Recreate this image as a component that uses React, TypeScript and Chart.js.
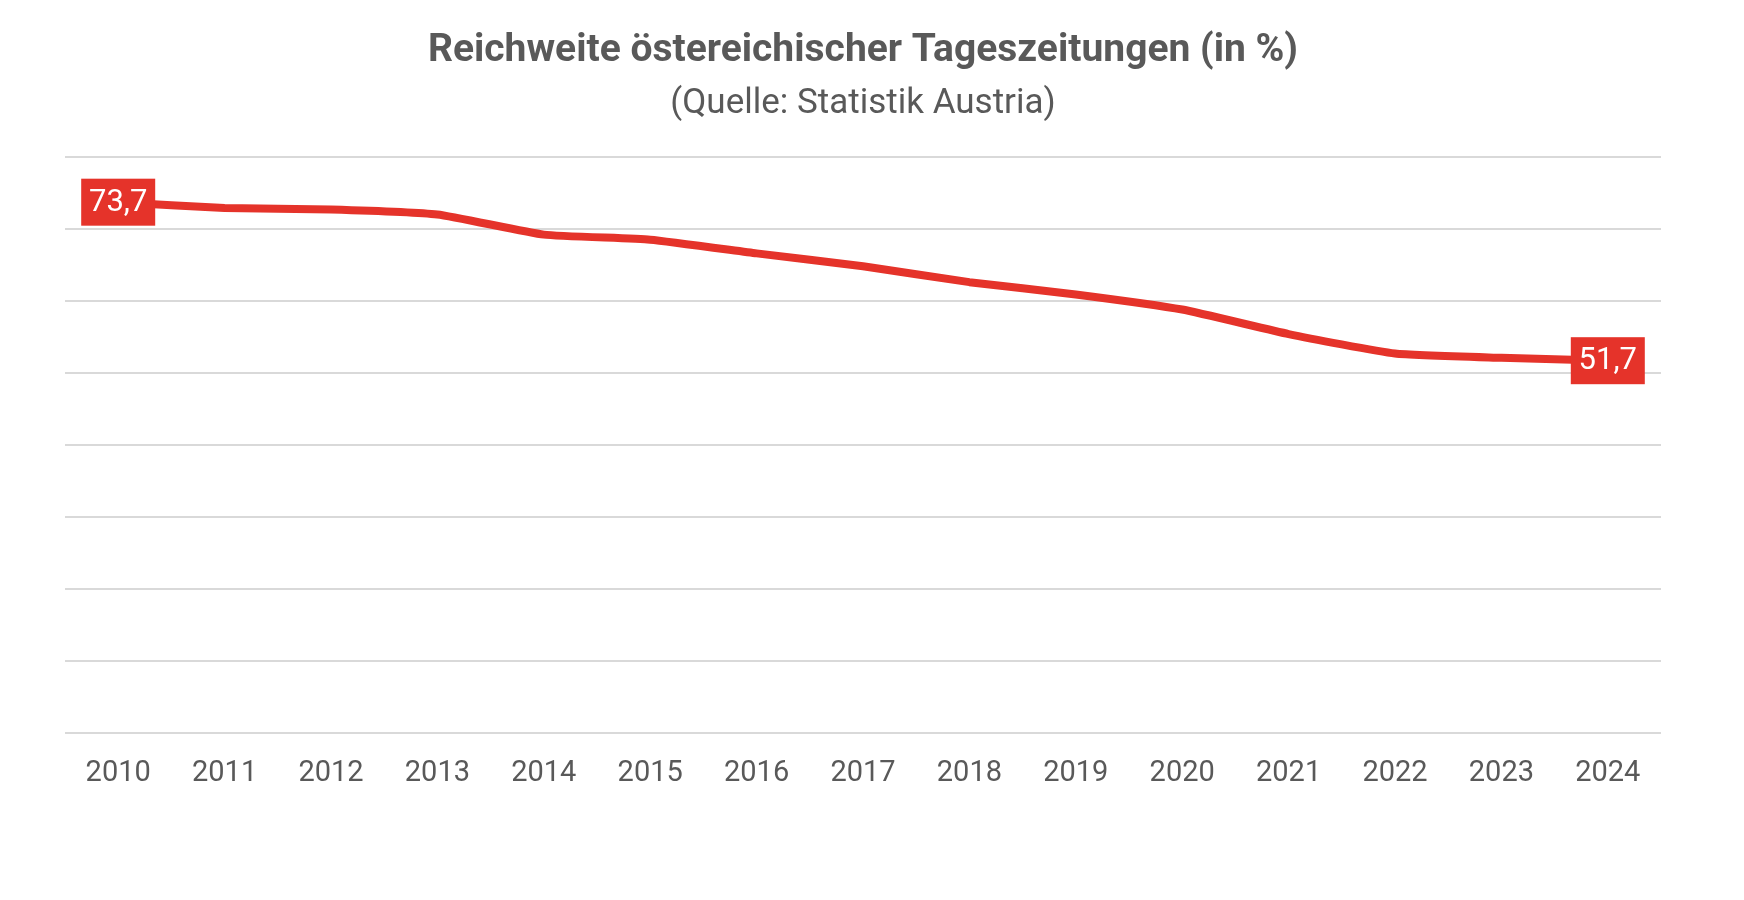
import React, { useEffect, useRef } from "react";
import { Chart, registerables } from "chart.js";

Chart.register(...registerables);

const years = ["2010", "2011", "2012", "2013", "2014", "2015", "2016", "2017", "2018", "2019", "2020", "2021", "2022", "2023", "2024"];
const reach = [73.7, 72.9, 72.7, 72.0, 69.2, 68.5, 66.6, 64.8, 62.6, 60.9, 58.8, 55.4, 52.7, 52.1, 51.7];
const labelledIndices = [0, 14];
const titleText = "Reichweite östereichischer Tageszeitungen (in %)";
const subtitleText = "(Quelle: Statistik Austria)";

const RED = "#E5332A";
const GREY = "#595959";

const endLabels = {
  id: "endLabels",
  afterDatasetsDraw(chart: any) {
    const ctx = chart.ctx;
    const meta = chart.getDatasetMeta(0);
    const data = chart.data.datasets[0].data as number[];
    ctx.save();
    ctx.font = "31px Roboto";
    ctx.textAlign = "center";
    ctx.textBaseline = "middle";
    labelledIndices.forEach((i) => {
      const pt = meta.data[i];
      const txt = data[i].toFixed(1).replace(".", ",");
      const w = 74;
      const h = 47;
      ctx.fillStyle = RED;
      ctx.fillRect(pt.x - w / 2, pt.y - h / 2, w, h);
      ctx.fillStyle = "#ffffff";
      ctx.fillText(txt, pt.x, pt.y + 1);
    });
    ctx.restore();
  },
};

export default function App() {
  const ref = useRef<HTMLCanvasElement | null>(null);
  useEffect(() => {
    if (!ref.current) return;
    const chart = new Chart(ref.current, {
      type: "line",
      data: {
        labels: years,
        datasets: [
          {
            data: reach,
            borderColor: RED,
            borderWidth: 8,
            pointRadius: 0,
            tension: 0.15,
            borderJoinStyle: "round",
            borderCapStyle: "round",
            fill: false,
          },
        ],
      },
      options: {
        animation: false,
        responsive: false,
        devicePixelRatio: 1,
        layout: { padding: { left: 65, right: 83, top: 0, bottom: 86 } },
        plugins: {
          legend: { display: false },
          tooltip: { enabled: false },
          title: {
            display: true,
            text: titleText,
            color: GREY,
            font: { family: "Roboto", size: 39, weight: "bold" },
            padding: { top: 28, bottom: 8 },
          },
          subtitle: {
            display: true,
            text: subtitleText,
            color: GREY,
            font: { family: "Roboto", size: 35, weight: "normal" },
            padding: { top: 0, bottom: 32 },
          },
        },
        scales: {
          x: {
            offset: true,
            grid: { display: false, drawTicks: false },
            border: { display: false },
            ticks: {
              color: GREY,
              font: { family: "Roboto", size: 29 },
              padding: 23,
              maxRotation: 0,
              autoSkip: false,
            },
          },
          y: {
            min: 0,
            max: 80,
            ticks: { display: false, stepSize: 10 },
            grid: { color: "#d9d9d9", lineWidth: 2, drawTicks: false },
            border: { display: false },
          },
        },
      },
      plugins: [endLabels],
    });
    return () => chart.destroy();
  }, []);
  return (
    <div style={{ position: "fixed", left: 0, top: 0, width: 1744, height: 900, background: "#fff" }}>
      <canvas ref={ref} width={1744} height={900} style={{ width: 1744, height: 900, display: "block" }} />
    </div>
  );
}
